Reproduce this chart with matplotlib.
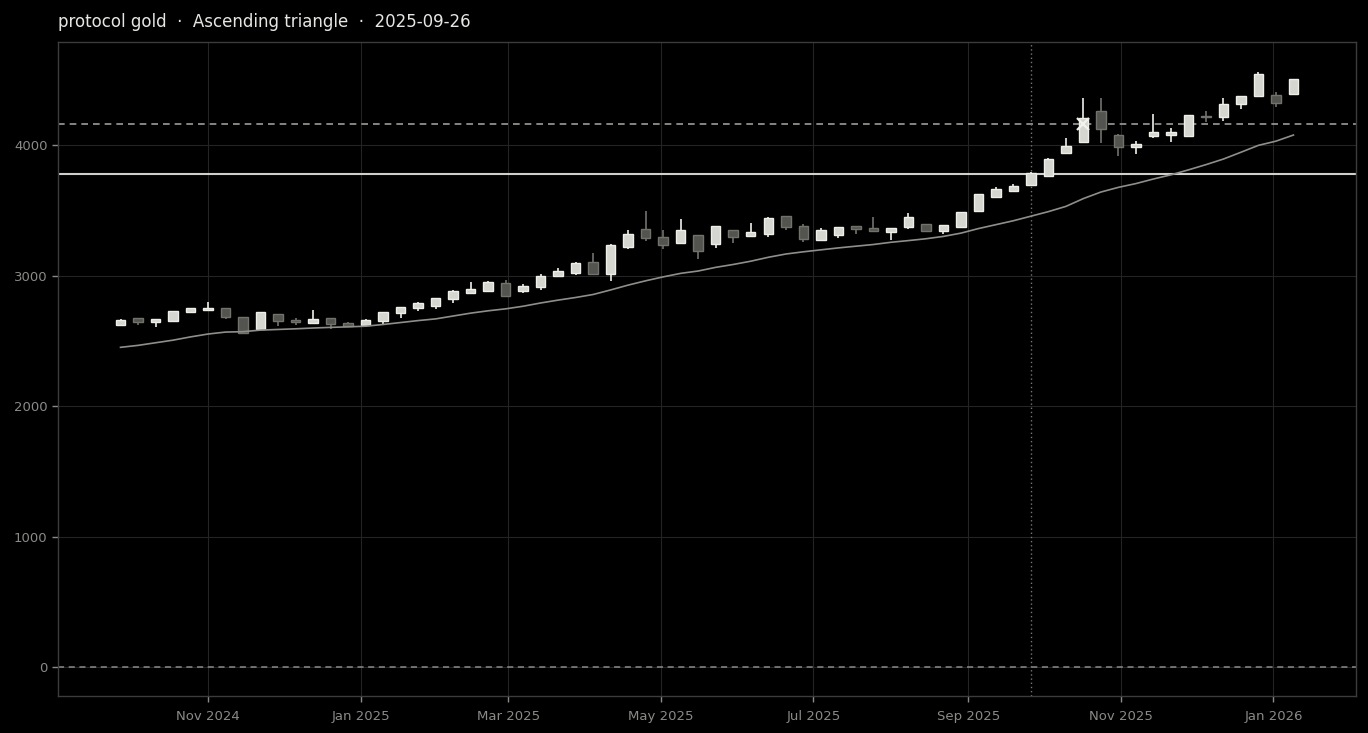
"""Weekly candles with an ascending-triangle breakout, dark theme."""

import matplotlib
matplotlib.use("Agg")
import matplotlib.dates as mdates
import matplotlib.pyplot as plt
import numpy as np
import pandas as pd


BG = "#000000"
INK = "#e6e6e3"
MUTED = "#8a8a87"
GRID = "#242424"
SPINE = "#3c3c3c"
UP_FILL = "#d6d6d1"
UP_EDGE = "#efefea"
DOWN_FILL = "#53534f"
DOWN_EDGE = "#72726d"
MA_COLOR = "#8e8e8a"

START = "2024-09-27"
N_WEEKS = 68

OPEN = [
    2623, 2672, 2646, 2654, 2723, 2738, 2749, 2680, 2592, 2703,
    2657, 2634, 2672, 2634, 2623, 2649, 2710, 2749, 2764, 2818,
    2864, 2879, 2940, 2879, 2910, 3000, 3022, 3101, 3014, 3216,
    3354, 3293, 3247, 3308, 3239, 3346, 3300, 3316, 3454, 3377,
    3270, 3308, 3377, 3362, 3331, 3369, 3392, 3339, 3369, 3492,
    3599, 3645, 3691, 3760, 3937, 4020, 4258, 4074, 3982, 4066,
    4074, 4066, 4225, 4212, 4312, 4373, 4381, 4389,
]
HIGH = [
    2670, 2675, 2666, 2730, 2752, 2795, 2752, 2683, 2722, 2706,
    2672, 2733, 2675, 2641, 2664, 2722, 2760, 2795, 2828, 2892,
    2948, 2956, 2963, 2933, 3009, 3055, 3101, 3170, 3240, 3346,
    3492, 3346, 3431, 3312, 3380, 3349, 3400, 3446, 3458, 3392,
    3361, 3372, 3380, 3446, 3365, 3477, 3395, 3388, 3490, 3626,
    3676, 3699, 3790, 3898, 4051, 4358, 4358, 4082, 4028, 4235,
    4128, 4230, 4263, 4358, 4376, 4557, 4404, 4508,
]
LOW = [
    2620, 2623, 2603, 2650, 2718, 2736, 2664, 2555, 2588, 2615,
    2618, 2630, 2588, 2606, 2606, 2621, 2672, 2728, 2741, 2787,
    2860, 2875, 2833, 2864, 2887, 2996, 3006, 3010, 2956, 3201,
    3262, 3201, 3239, 3124, 3208, 3247, 3296, 3293, 3346, 3254,
    3262, 3285, 3316, 3331, 3270, 3354, 3331, 3316, 3365, 3488,
    3595, 3638, 3687, 3756, 3933, 4015, 4013, 3913, 3929, 4051,
    4020, 4062, 4174, 4182, 4274, 4369, 4289, 4385,
]
CLOSE = [
    2657, 2646, 2664, 2726, 2749, 2751, 2684, 2562, 2718, 2654,
    2641, 2664, 2631, 2613, 2657, 2718, 2757, 2787, 2825, 2879,
    2894, 2948, 2841, 2917, 2994, 3032, 3093, 3014, 3231, 3316,
    3285, 3231, 3346, 3185, 3377, 3293, 3331, 3438, 3369, 3277,
    3346, 3369, 3354, 3339, 3362, 3446, 3339, 3385, 3484, 3622,
    3661, 3684, 3783, 3890, 3990, 4204, 4120, 3982, 4005, 4097,
    4097, 4227, 4218, 4312, 4373, 4542, 4320, 4504,
]
MA = [
    2450, 2465, 2485, 2505, 2530, 2552, 2567, 2570, 2582, 2587,
    2592, 2598, 2603, 2607, 2612, 2625, 2640, 2655, 2668, 2690,
    2712, 2730, 2745, 2765, 2790, 2812, 2832, 2855, 2890, 2927,
    2960, 2990, 3017, 3035, 3063, 3085, 3110, 3140, 3165, 3182,
    3197, 3212, 3225, 3238, 3255, 3268, 3282, 3300, 3325, 3360,
    3390, 3420, 3455, 3490, 3530, 3590, 3640, 3676, 3705, 3740,
    3772, 3810, 3850, 3893, 3945, 3998, 4030, 4077,
]

RESISTANCE = 4161
SUPPORT = 3778
EVENT_DATE = "2025-09-26"
BREAKOUT_WEEK = 55
TITLE = "protocol gold  ·  Ascending triangle  ·  2025-09-26"


def main() -> None:
    dates = pd.date_range(START, periods=N_WEEKS, freq="7D")
    x = mdates.date2num(dates.to_pydatetime())
    o, h, l, c = (np.array(v, dtype=float) for v in (OPEN, HIGH, LOW, CLOSE))
    up = c >= o

    fig = plt.figure(figsize=(13.68, 7.33), dpi=100, facecolor=BG)
    ax = fig.add_axes([0.0424, 0.0505, 0.9488, 0.8922])
    ax.set_facecolor(BG)

    ax.grid(True, color=GRID, lw=0.8, zorder=0)
    ax.set_axisbelow(True)

    # wicks
    ax.vlines(x[up], l[up], h[up], color=UP_EDGE, lw=1.2, zorder=2)
    ax.vlines(x[~up], l[~up], h[~up], color=DOWN_EDGE, lw=1.2, zorder=2)

    # bodies
    bottom = np.minimum(o, c)
    height = np.maximum(np.abs(c - o), 6)
    ax.bar(x[up], height[up], bottom=bottom[up], width=3.8, color=UP_FILL,
           edgecolor=UP_EDGE, lw=1.0, zorder=3)
    ax.bar(x[~up], height[~up], bottom=bottom[~up], width=3.8, color=DOWN_FILL,
           edgecolor=DOWN_EDGE, lw=1.0, zorder=3)

    ax.plot(x, MA, color=MA_COLOR, lw=1.2, zorder=4)

    ax.axhline(SUPPORT, color="#cfcfcb", lw=1.5, zorder=1)
    ax.axhline(RESISTANCE, color="#9c9c98", lw=1.2, ls=(0, (4, 3)), zorder=1)
    ax.axhline(0, color="#8a8a87", lw=1.1, ls=(0, (4, 3)), zorder=1)
    ax.axvline(mdates.datestr2num(EVENT_DATE), color="#777774", lw=1.0,
               ls=(0, (1, 2)), zorder=1)

    ax.plot(x[BREAKOUT_WEEK], RESISTANCE, marker="x", ms=9, mew=1.6,
            color="#f2f2ee", zorder=5)

    ax.set_xlim(x[0] - 25, x[-1] + 25)
    ax.set_ylim(-222, 4790)
    ax.set_yticks([0, 1000, 2000, 3000, 4000])
    ax.xaxis.set_major_locator(mdates.MonthLocator(bymonth=[1, 3, 5, 7, 9, 11]))
    ax.xaxis.set_major_formatter(mdates.DateFormatter("%b %Y"))

    for side in ax.spines.values():
        side.set_color(SPINE)
        side.set_linewidth(1.0)
    ax.tick_params(colors=MUTED, labelsize=9.5, length=4, width=1.0)
    ax.tick_params(axis="x", pad=6)

    ax.set_title(TITLE, loc="left", color=INK, fontsize=12, pad=11)

    fig.savefig("out.png", dpi=100, facecolor=BG)
    plt.close(fig)


if __name__ == "__main__":
    main()
